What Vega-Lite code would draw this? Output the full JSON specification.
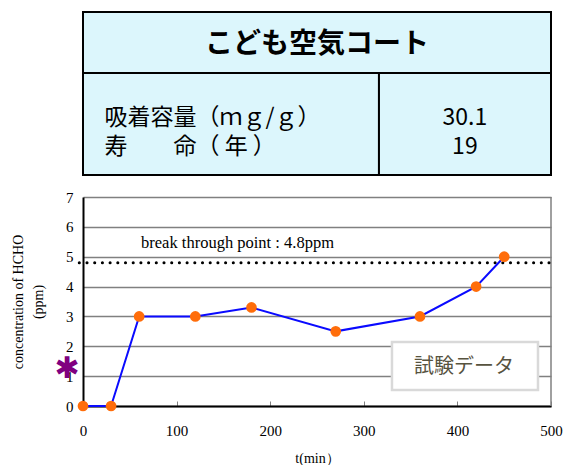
{
  "$schema": "https://vega.github.io/schema/vega-lite/v6.json",
  "padding": {"left": 11, "top": 11, "right": 0, "bottom": 0},
  "bounds": "flush",
  "spacing": 22,
  "config": {"view": {"stroke": null}},
  "datasets": {
    "series": [
      {"t": 0, "ppm": 0},
      {"t": 30, "ppm": 0},
      {"t": 60, "ppm": 3},
      {"t": 120, "ppm": 3},
      {"t": 180, "ppm": 3.3},
      {"t": 270, "ppm": 2.5},
      {"t": 360, "ppm": 3},
      {"t": 420, "ppm": 4},
      {"t": 450, "ppm": 5}
    ],
    "cells": [
      {"x": 0, "x2": 500, "y": 0, "y2": 61},
      {"x": 0, "x2": 316.2, "y": 61, "y2": 163},
      {"x": 316.2, "x2": 500, "y": 61, "y2": 163}
    ],
    "tabletext": [
      {"x": 250, "y": 33, "label": "こども空気コート", "kind": "title", "align": "center"},
      {"x": 23, "y": 106, "label": "吸着容量（ｍｇ/ｇ）", "kind": "body", "align": "left"},
      {"x": 23, "y": 135, "label": "寿　　命（ 年 ）", "kind": "body", "align": "left"},
      {"x": 408, "y": 106, "label": "30.1", "kind": "body", "align": "center"},
      {"x": 408, "y": 135, "label": "19", "kind": "body", "align": "center"}
    ]
  },
  "vconcat": [
    {
      "width": 468,
      "height": 163,
      "layer": [
        {
          "data": {"name": "cells"},
          "mark": {"type": "rect", "fill": "#dcf6fc", "stroke": "#000000", "strokeWidth": 2},
          "encoding": {
            "x": {"field": "x", "type": "quantitative", "scale": {"domain": [0, 500], "nice": false}, "axis": null},
            "x2": {"field": "x2"},
            "y": {"field": "y", "type": "quantitative", "scale": {"domain": [0, 163], "reverse": true, "nice": false}, "axis": null},
            "y2": {"field": "y2"}
          }
        },
        {
          "data": {"name": "tabletext"},
          "transform": [{"filter": "datum.kind == 'title'"}],
          "mark": {"type": "text", "font": "Noto Sans CJK JP", "fontWeight": "bold", "fontSize": 28, "align": "center", "baseline": "middle", "color": "#000000"},
          "encoding": {
            "x": {"field": "x", "type": "quantitative"},
            "y": {"field": "y", "type": "quantitative"},
            "text": {"field": "label"}
          }
        },
        {
          "data": {"name": "tabletext"},
          "transform": [{"filter": "datum.kind == 'body' && datum.align == 'left'"}],
          "mark": {"type": "text", "font": "Noto Sans CJK JP", "fontSize": 23, "align": "left", "baseline": "middle", "color": "#000000"},
          "encoding": {
            "x": {"field": "x", "type": "quantitative"},
            "y": {"field": "y", "type": "quantitative"},
            "text": {"field": "label"}
          }
        },
        {
          "data": {"name": "tabletext"},
          "transform": [{"filter": "datum.kind == 'body' && datum.align == 'center'"}],
          "mark": {"type": "text", "font": "Noto Sans CJK JP", "fontSize": 23, "align": "center", "baseline": "middle", "color": "#000000"},
          "encoding": {
            "x": {"field": "x", "type": "quantitative"},
            "y": {"field": "y", "type": "quantitative"},
            "text": {"field": "label"}
          }
        }
      ]
    },
    {
      "width": 468,
      "height": 209,
      "encoding": {
        "x": {
          "field": "t", "type": "quantitative",
          "scale": {"domain": [0, 500], "nice": false},
          "axis": {
            "values": [0, 100, 200, 300, 400, 500],
            "grid": false,
            "domainColor": "#000000", "domainWidth": 2,
            "tickSize": -5, "tickColor": "#808080",
            "labelFlush": false,
            "labelFont": "Liberation Serif", "labelFontSize": 15, "labelColor": "#000000", "labelPadding": 22,
            "title": "t(min）", "titleFont": "Liberation Serif", "titleFontSize": 14, "titleFontWeight": "normal", "titleColor": "#000000", "titlePadding": 13
          }
        },
        "y": {
          "field": "ppm", "type": "quantitative",
          "scale": {"domain": [0, 7], "nice": false},
          "axis": {
            "values": [0, 1, 2, 3, 4, 5, 6, 7],
            "grid": true, "gridColor": "#808080", "gridWidth": 1.5,
            "domainColor": "#000000", "domainWidth": 2,
            "ticks": false,
            "labelFlush": false,
            "labelFont": "Liberation Serif", "labelFontSize": 15, "labelColor": "#000000", "labelPadding": 10,
            "title": ["concentration of HCHO", "(ppm)"], "titleFont": "Liberation Serif", "titleFontSize": 14, "titleFontWeight": "normal", "titleColor": "#000000", "titlePadding": 20, "titleLineHeight": 20
          }
        }
      },
      "layer": [
        {
          "data": {"values": [{"t": 500, "ppm": 0, "ppm2": 7}]},
          "mark": {"type": "rule", "color": "#808080", "strokeWidth": 1.5},
          "encoding": {
            "y2": {"field": "ppm2"}
          }
        },
        {
          "data": {"values": [{"t": -4, "t2": 500, "ppm": 4.8}]},
          "mark": {"type": "rule", "color": "#000000", "strokeWidth": 3, "strokeDash": [0.1, 7.6], "strokeCap": "round"},
          "encoding": {
            "x2": {"field": "t2"}
          }
        },
        {
          "data": {"values": [{"t": 62, "ppm": 5.46, "label": "break through point : 4.8ppm"}]},
          "mark": {"type": "text", "font": "Liberation Serif", "fontSize": 16.5, "align": "left", "baseline": "middle", "color": "#000000"},
          "encoding": {"text": {"field": "label"}}
        },
        {
          "data": {"name": "series"},
          "mark": {"type": "line", "color": "#0a0aff", "strokeWidth": 2},
          "encoding": {}
        },
        {
          "data": {"name": "series"},
          "mark": {"type": "point", "filled": true, "color": "#ff6d0a", "size": 115, "opacity": 1},
          "encoding": {}
        },
        {
          "data": {"values": [{"t": 330.1, "t2": 486.1, "ppm": 2.144, "ppm2": 0.536}]},
          "mark": {"type": "rect", "fill": "#ffffff", "stroke": "#d9d9d9", "strokeWidth": 2.5},
          "encoding": {"x2": {"field": "t2"}, "y2": {"field": "ppm2"}}
        },
        {
          "data": {"values": [{"t": 407, "ppm": 1.31, "label": "試験データ"}]},
          "mark": {"type": "text", "font": "Noto Sans CJK JP", "fontSize": 20, "align": "center", "baseline": "middle", "color": "#57533f"},
          "encoding": {"text": {"field": "label"}}
        },
        {
          "data": {"values": [{"t": -17, "ppm": 1.24, "label": "✱"}]},
          "mark": {"type": "text", "font": "DejaVu Sans", "fontSize": 30, "align": "center", "baseline": "middle", "color": "#800080"},
          "encoding": {"text": {"field": "label"}}
        }
      ]
    }
  ]
}
